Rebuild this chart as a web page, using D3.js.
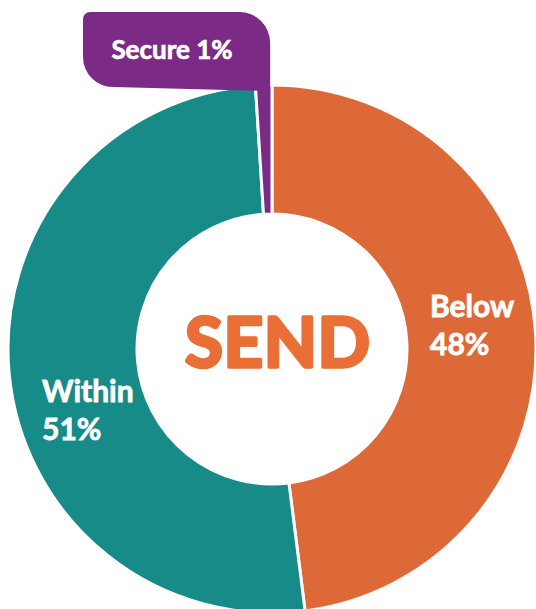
<!DOCTYPE html>
<html>
<head>
<meta charset="utf-8">
<script src="https://cdn.jsdelivr.net/npm/d3@7"></script>
<style>
  html, body { margin: 0; padding: 0; background: #fff; }
  svg { display: block; }
  text { font-family: Lato, "Open Sans", sans-serif; font-weight: 700; }
</style>
</head>
<body>
<svg id="chart" width="536" height="609"></svg>
<script>
// ---- data ----
const categories = ["Below", "Within", "Secure"];
const values = [48, 51, 1];
const colors = ["#DD6938", "#178B88", "#7B2A86"];
const centerTitle = "SEND";

// ---- layout ----
const svg = d3.select("#chart");
const cx = 272, cy = 349, outerR = 264, innerR = 135;

const pie = d3.pie().sort(null).value(d => d.value).startAngle(0).endAngle(2 * Math.PI);
const data = categories.map((c, i) => ({ cat: c, value: values[i], color: colors[i] }));
const arcs = pie(data);
const arc = d3.arc().innerRadius(innerR).outerRadius(outerR);

const g = svg.append("g").attr("transform", `translate(${cx},${cy})`);

g.selectAll("path.slice")
  .data(arcs)
  .join("path")
  .attr("class", "slice")
  .attr("d", arc)
  .attr("fill", d => d.data.color)
  .attr("stroke", "#fff")
  .attr("stroke-width", 3)
  .attr("stroke-linejoin", "round");

// ---- callout for Secure ----
const sec = arcs[2];
const R = cx + outerR * Math.sin(sec.endAngle - 0.007);
const L = 83, T = 12, B = 87, rTL = 7, rTR = 31, rBL = 30;
const callout = d3.path();
callout.moveTo(L + rTL, T);
callout.lineTo(R - rTR, T);
callout.arcTo(R, T, R, T + rTR, rTR);
callout.lineTo(R, B + 4);
callout.lineTo(L + rBL, B);
callout.arcTo(L, B, L, B - rBL, rBL);
callout.lineTo(L, T + rTL);
callout.arcTo(L, T, L + rTL, T, rTL);
callout.closePath();
svg.append("path").attr("d", callout.toString()).attr("fill", colors[2]);

const pct = v => `${v}%`;

svg.append("text")
  .attr("x", 172).attr("y", 59)
  .attr("text-anchor", "middle")
  .attr("fill", "#fff")
  .attr("stroke", "#fff").attr("stroke-width", 0.7)
  .attr("font-size", 26)
  .text(`${categories[2]} ${pct(values[2])}`);

// ---- slice labels ----
const labelPos = [
  { x: 430, y1: 317, y2: 355 },
  { x: 42, y1: 402, y2: 440 }
];
labelPos.forEach((p, i) => {
  const t = svg.append("text").attr("fill", "#fff")
    .attr("stroke", "#fff").attr("stroke-width", 0.8)
    .attr("font-size", 30);
  t.append("tspan").attr("x", p.x).attr("y", p.y1).text(categories[i]);
  t.append("tspan").attr("x", p.x).attr("y", p.y2).text(pct(values[i]));
});

// ---- centre title ----
svg.append("text")
  .attr("x", 185).attr("y", 367)
  .attr("text-anchor", "start")
  .attr("fill", "#E96F36")
  .attr("stroke", "#E96F36").attr("stroke-width", 3.5).attr("stroke-linejoin", "round")
  .attr("font-size", 69)
  .attr("textLength", 185)
  .attr("lengthAdjust", "spacing")
  .text(centerTitle);
</script>
</body>
</html>
